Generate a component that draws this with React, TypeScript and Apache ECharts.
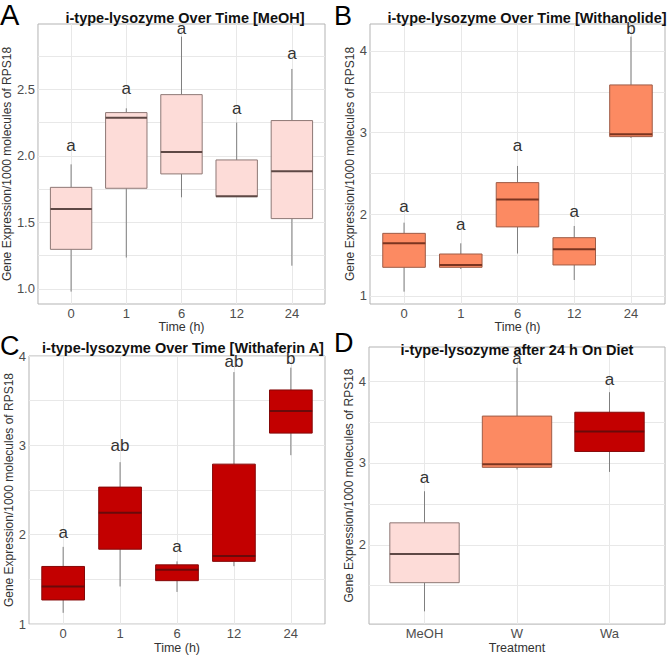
import React, { useEffect, useRef } from "react";
import * as echarts from "echarts";

// ---------- data ----------
const timeCats = ["0", "1", "6", "12", "24"];
const treatCats = ["MeOH", "W", "Wa"];

// Panel A: MeOH
const meohMin = [0.98, 1.236, 1.689, 1.694, 1.175];
const meohQ1 = [1.298, 1.757, 1.865, 1.694, 1.529];
const meohMed = [1.602, 2.288, 2.03, 1.697, 1.885];
const meohQ3 = [1.764, 2.326, 2.461, 1.97, 2.266];
const meohMax = [1.937, 2.358, 2.897, 2.251, 2.654];
const meohLetters = ["a", "a", "a", "a", "a"];
const meohLetterY = [2.08, 2.51, 2.96, 2.36, 2.77];

// Panel B: Withanolide
const wMin = [1.053, 1.33, 1.52, 1.196, 2.935];
const wQ1 = [1.351, 1.351, 1.846, 1.38, 2.951];
const wMed = [1.645, 1.38, 2.18, 1.571, 2.98];
const wQ3 = [1.767, 1.514, 2.388, 1.714, 3.584];
const wMax = [1.898, 1.645, 2.592, 1.857, 4.175];
const wLetters = ["a", "a", "a", "a", "b"];
const wLetterY = [2.09, 1.88, 2.84, 2.04, 4.27];

// Panel C: Withaferin A
const waMin = [1.126, 1.421, 1.36, 1.648, 2.89];
const waQ1 = [1.27, 1.838, 1.486, 1.702, 3.137];
const waMed = [1.421, 2.245, 1.609, 1.763, 3.384];
const waQ3 = [1.645, 2.533, 1.663, 2.79, 3.62];
const waMax = [1.864, 2.812, 1.702, 3.82, 3.87];
const waLetters = ["a", "ab", "a", "ab", "b"];
const waLetterY = [2.03, 3.0, 1.87, 3.935, 3.97];

// Panel D: after 24 h
const dMin = [1.187, 2.92, 2.89];
const dQ1 = [1.537, 2.946, 3.14];
const dMed = [1.887, 2.984, 3.385];
const dQ3 = [2.268, 3.572, 3.619];
const dMax = [2.654, 4.163, 3.864];
const dLetters = ["a", "a", "a"];
const dLetterY = [2.82, 4.28, 4.02];

// tick labels
const yTicksA = [1.0, 1.5, 2.0, 2.5];
const yGridA = [1.0, 1.25, 1.5, 1.75, 2.0, 2.25, 2.5, 2.75];
const yTicksB = [1, 2, 3, 4];
const yGridB = [1, 1.5, 2, 2.5, 3, 3.5, 4];
const yTicksC = [1, 2, 3, 4];
const yGridC = [1, 1.5, 2, 2.5, 3, 3.5, 4];
const yTicksD = [2, 3, 4];
const yGridD = [1.5, 2, 2.5, 3, 3.5, 4];

// ---------- styles ----------
const FONT = "'Liberation Sans', Arial, Helvetica, sans-serif";
const STY = {
  meoh: { fill: "#FDDCD8", stroke: "#8E7875", median: "#5E4845" },
  w: { fill: "#FC8A62", stroke: "#9E5C47", median: "#7A3420" },
  wa: { fill: "#C30000", stroke: "#850808", median: "#6A0A0A" },
};
const WHISKER = "#7f7f7f";
const GRIDLINE = "#e8e8e8";
const BORDER = "#b3b3b3";
const YTITLE = "Gene Expression/1000 molecules of RPS18";

function buildRows(mn: number[], q1: number[], md: number[], q3: number[], mx: number[], ly: number[]) {
  return mn.map((_, i) => [i, mn[i], q1[i], md[i], q3[i], mx[i], ly[i]]);
}

function boxSeries(gridIndex: number, rows: number[][], letters: string[], styles: any[]) {
  return {
    type: "custom",
    xAxisIndex: gridIndex,
    yAxisIndex: gridIndex,
    clip: false,
    data: rows,
    renderItem: (params: any, api: any) => {
      const x = api.value(0);
      const w = api.size([0.75, 0])[0];
      const pMin = api.coord([x, api.value(1)]);
      const pQ1 = api.coord([x, api.value(2)]);
      const pMed = api.coord([x, api.value(3)]);
      const pQ3 = api.coord([x, api.value(4)]);
      const pMax = api.coord([x, api.value(5)]);
      const pL = api.coord([x, api.value(6)]);
      const s = styles[params.dataIndex];
      return {
        type: "group",
        children: [
          { type: "line", shape: { x1: pMin[0], y1: pMin[1], x2: pQ1[0], y2: pQ1[1] }, style: { stroke: WHISKER, lineWidth: 1 } },
          { type: "line", shape: { x1: pQ3[0], y1: pQ3[1], x2: pMax[0], y2: pMax[1] }, style: { stroke: WHISKER, lineWidth: 1 } },
          {
            type: "rect",
            shape: { x: pQ3[0] - w / 2, y: pQ3[1], width: w, height: Math.max(pQ1[1] - pQ3[1], 0.5) },
            style: { fill: s.fill, stroke: s.stroke, lineWidth: 1 },
          },
          {
            type: "line",
            shape: { x1: pMed[0] - w / 2, y1: pMed[1], x2: pMed[0] + w / 2, y2: pMed[1] },
            style: { stroke: s.median, lineWidth: 2 },
          },
          {
            type: "text",
            x: pL[0],
            y: pL[1],
            style: {
              text: letters[params.dataIndex],
              fontSize: 17,
              fontFamily: FONT,
              fill: "#333333",
              align: "center",
              verticalAlign: "middle",
            },
          },
        ],
      };
    },
  };
}

function xAxisDef(gridIndex: number, cats: string[], name: string) {
  const vals = cats.map((_, i) => i);
  return {
    type: "value",
    gridIndex,
    min: -0.6,
    max: cats.length - 0.4,
    name,
    nameLocation: "middle",
    nameGap: 15,
    nameTextStyle: { fontSize: 12.5, color: "#333333", fontFamily: FONT },
    axisLine: { show: false },
    axisTick: { show: false, customValues: vals },
    axisLabel: {
      customValues: vals,
      margin: 3,
      fontSize: 13,
      color: "#4d4d4d",
      fontFamily: FONT,
      formatter: (v: number) => cats[Math.round(v)] ?? "",
    },
    splitLine: { show: true, lineStyle: { color: GRIDLINE, width: 1 } },
  };
}

function yAxisDef(gridIndex: number, min: number, max: number, ticks: number[], grid: number[], decimals: number, gap: number) {
  return {
    type: "value",
    gridIndex,
    min,
    max,
    name: YTITLE,
    nameLocation: "middle",
    nameGap: gap,
    nameTextStyle: { fontSize: 12, color: "#333333", fontFamily: FONT },
    axisLine: { show: false },
    axisTick: { show: false, customValues: grid },
    axisLabel: {
      customValues: ticks,
      margin: 3,
      fontSize: 13,
      color: "#4d4d4d",
      fontFamily: FONT,
      formatter: (v: number) => v.toFixed(decimals),
    },
    splitLine: { show: true, lineStyle: { color: GRIDLINE, width: 1 } },
  };
}

function titleDef(text: string, cx: number, top: number) {
  return {
    text,
    left: cx,
    top,
    textAlign: "center",
    textStyle: { fontSize: 14.5, fontWeight: "bold", color: "#111111", fontFamily: FONT },
  };
}

function letterDef(text: string, x: number, y: number, size: number) {
  return {
    type: "text",
    left: x,
    top: y,
    style: { text, fontSize: size, fill: "#000000", fontFamily: FONT },
  };
}

export default function App() {
  const ref = useRef<HTMLDivElement>(null);
  useEffect(() => {
    if (!ref.current) return;
    const chart = echarts.init(ref.current, null, { renderer: "svg" });
    const gridCommon = { show: true, borderColor: BORDER, borderWidth: 1, backgroundColor: "#ffffff", containLabel: false };
    const option: any = {
      animation: false,
      backgroundColor: "#ffffff",
      title: [
        titleDef("i-type-lysozyme Over Time [MeOH]", 180, 5),
        titleDef("i-type-lysozyme Over Time [Withanolide]", 522, 5),
        titleDef("i-type-lysozyme Over Time [Withaferin A]", 178, 335),
        titleDef("i-type-lysozyme after 24 h On Diet", 512, 337),
      ],
      graphic: [
        letterDef("A", 0, 0, 29),
        letterDef("B", 334, 2, 27),
        letterDef("C", 0, 332, 27),
        letterDef("D", 334, 329, 27),
      ],
      grid: [
        { ...gridCommon, left: 35, top: 24, width: 290, height: 280 },
        { ...gridCommon, left: 370, top: 24, width: 295, height: 280 },
        { ...gridCommon, left: 29, top: 356, width: 296, height: 278 },
        { ...gridCommon, left: 369, top: 347, width: 296, height: 290 },
      ],
      xAxis: [
        xAxisDef(0, timeCats, "Time (h)"),
        xAxisDef(1, timeCats, "Time (h)"),
        xAxisDef(2, timeCats, "Time (h)"),
        xAxisDef(3, treatCats, "Treatment"),
      ],
      yAxis: [
        yAxisDef(0, 0.887, 2.992, yTicksA, yGridA, 1, 20),
        yAxisDef(1, 0.902, 4.33, yTicksB, yGridB, 0, 10),
        yAxisDef(2, 1.0, 4.0, yTicksC, yGridC, 0, 10),
        yAxisDef(3, 1.031, 4.416, yTicksD, yGridD, 0, 9),
      ],
      series: [
        boxSeries(0, buildRows(meohMin, meohQ1, meohMed, meohQ3, meohMax, meohLetterY), meohLetters, timeCats.map(() => STY.meoh)),
        boxSeries(1, buildRows(wMin, wQ1, wMed, wQ3, wMax, wLetterY), wLetters, timeCats.map(() => STY.w)),
        boxSeries(2, buildRows(waMin, waQ1, waMed, waQ3, waMax, waLetterY), waLetters, timeCats.map(() => STY.wa)),
        boxSeries(3, buildRows(dMin, dQ1, dMed, dQ3, dMax, dLetterY), dLetters, [STY.meoh, STY.w, STY.wa]),
      ],
    };
    chart.setOption(option);
    return () => chart.dispose();
  }, []);
  return <div ref={ref} style={{ position: "fixed", left: 0, top: 0, width: 670, height: 655 }} />;
}
